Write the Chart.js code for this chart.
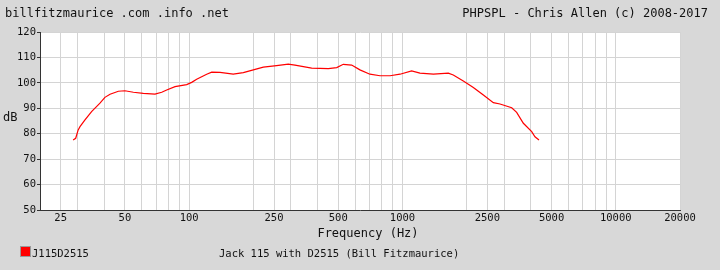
<!DOCTYPE html>
<html>
<head>
<meta charset="utf-8">
<script src="https://cdn.jsdelivr.net/npm/chart.js@4"></script>
<style>
  html, body { margin: 0; padding: 0; background: #d8d8d8; }
  #wrap { position: relative; width: 720px; height: 270px; overflow: hidden;
          font-family: "DejaVu Sans Mono", monospace; color: #111; }
  #wrap canvas { position: absolute; left: 0; top: 0; }
  .t { position: absolute; white-space: nowrap; }
  .h { font-size: 12px; line-height: 12px; }
  .l { font-size: 10.5px; line-height: 10.5px; }
  #swatch { position: absolute; left: 20px; top: 246px; width: 9px; height: 9px;
            background: #ff0000; border: 1px solid #999; }
</style>
</head>
<body>
<div id="wrap">
  <canvas id="spl" width="720" height="270"></canvas>
  <span class="t h" style="left:5px; top:7px;">billfitzmaurice .com .info .net</span>
  <span class="t h" style="right:12px; top:7px;">PHPSPL - Chris Allen (c) 2008-2017</span>
  <span class="t h" style="left:3px; top:111px;">dB</span>
  <span class="t h" style="left:368px; top:227px; transform:translateX(-50%);">Frequency (Hz)</span>
  <div id="swatch"></div>
  <span class="t l" style="left:32px; top:248px;">J115D2515</span>
  <span class="t l" style="left:219px; top:248px;">Jack 115 with D2515 (Bill Fitzmaurice)</span>
</div>
<script>
// frequency response
const freqs = [28.6, 29.4, 30.2, 30.8, 32.5, 34.9, 38.2, 40.3, 42.6, 46.6, 50, 54.8, 61, 69.2,
  74.4, 78.5, 85.9, 97.4, 102.8, 108.5, 120.9, 127.6, 139.6, 161, 179.5, 200, 222.8, 257,
  291.7, 313.5, 375.4, 449.4, 492, 528, 578, 632, 704, 785, 875, 974, 1104, 1208, 1397,
  1641, 1731, 1929, 2149, 2395, 2667, 2866, 3252, 3431, 3688, 4036, 4180, 4366];
const spl = [77.5, 78.2, 81.5, 82.8, 85.4, 88.7, 92.0, 94.3, 95.5, 96.7, 96.9, 96.3, 95.9, 95.6,
  96.3, 97.2, 98.5, 99.3, 100.2, 101.4, 103.4, 104.2, 104.1, 103.4, 104.0, 105.1, 106.2, 106.8,
  107.4, 107.0, 105.8, 105.6, 106.0, 107.3, 107.0, 105.1, 103.4, 102.8, 102.8, 103.4, 104.7, 103.8, 103.4,
  103.8, 103.1, 100.7, 98.2, 95.2, 92.2, 91.7, 90.2, 88.4, 84.1, 80.8, 78.8, 77.5];

// vertical grid lines and which of them get a label
const xGrid = [20, 25, 30, 40, 50, 60, 70, 80, 90, 100, 200, 250, 300, 400, 500, 600, 700, 800, 900,
  1000, 2000, 2500, 3000, 4000, 5000, 6000, 7000, 8000, 9000, 10000, 20000];
const xLabels = [25, 50, 100, 250, 500, 1000, 2500, 5000, 10000, 20000];
const yMin = 50, yMax = 120, yStep = 5, yLabelStep = 10;

const plotBg = {
  id: 'plotBg',
  beforeDraw(chart) {
    const { ctx, chartArea: a } = chart;
    ctx.save();
    ctx.fillStyle = '#ffffff';
    ctx.fillRect(a.left, a.top, a.right - a.left, a.bottom - a.top);
    ctx.restore();
  }
};

const tickFont = { family: 'DejaVu Sans Mono', size: 10.5 };

new Chart(document.getElementById('spl'), {
  type: 'line',
  data: {
    datasets: [{
      label: 'J115D2515',
      data: freqs.map((f, i) => ({ x: f, y: spl[i] })),
      borderColor: '#ff0000',
      borderWidth: 1.2,
      pointRadius: 0,
      tension: 0,
      fill: false
    }]
  },
  options: {
    responsive: false,
    animation: false,
    layout: { padding: { top: 32, right: 40, left: 0, bottom: 0 } },
    plugins: { legend: { display: false }, tooltip: { enabled: false } },
    scales: {
      x: {
        type: 'logarithmic',
        min: 20,
        max: 20000,
        afterBuildTicks: (scale) => { scale.ticks = xGrid.map(v => ({ value: v })); },
        afterFit: (scale) => { scale.height = 60; },
        ticks: {
          autoSkip: false,
          maxRotation: 0,
          padding: 2,
          color: '#111',
          font: tickFont,
          callback: (v) => xLabels.includes(v) ? String(v) : ''
        },
        grid: { color: '#d4d4d4', drawTicks: false },
        border: { color: '#333333', width: 1 }
      },
      y: {
        min: yMin,
        max: yMax,
        afterFit: (scale) => { scale.width = 40; },
        ticks: {
          stepSize: yStep,
          padding: 1,
          color: '#111',
          font: tickFont,
          callback: (v) => v % yLabelStep === 0 ? String(v) : ''
        },
        grid: {
          color: '#d4d4d4',
          tickLength: 3,
          tickColor: (c) => c.tick && c.tick.value % yLabelStep === 0 ? '#333333' : 'rgba(0,0,0,0)'
        },
        border: { color: '#333333', width: 1 }
      }
    }
  },
  plugins: [plotBg]
});
</script>
</body>
</html>
